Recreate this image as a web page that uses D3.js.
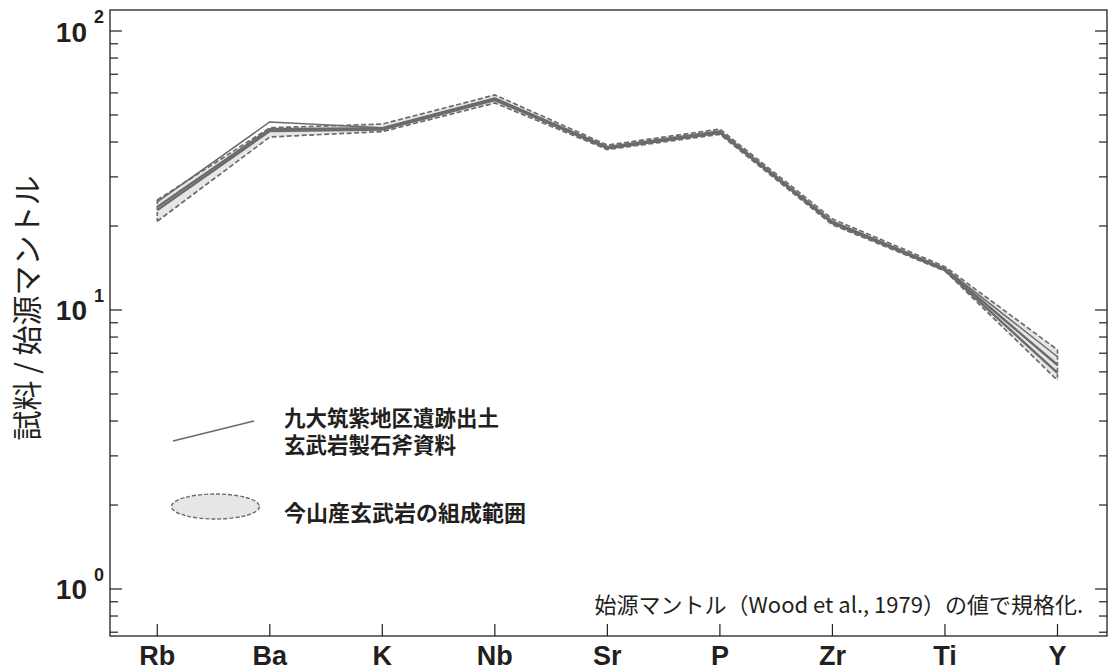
<!DOCTYPE html>
<html><head><meta charset="utf-8">
<script src="https://cdn.jsdelivr.net/npm/d3@7"></script>
<style>
html,body{margin:0;padding:0;background:#fff;}
svg{display:block;}
</style></head>
<body>
<svg id="chart" width="1110" height="671"></svg>
<script>
// ---- data ----
const elements = ["Rb","Ba","K","Nb","Sr","P","Zr","Ti","Y"];
const rangeUpper = [24.8, 45.0, 46.4, 59.0, 39.0, 44.5, 21.2, 14.3, 7.2];
const rangeLower = [20.8, 41.7, 43.6, 55.2, 37.6, 42.6, 20.2, 13.8, 5.6];
const sampleA = [24.4, 47.2, 45.0, 57.5, 38.5, 43.8, 20.8, 14.1, 6.8];
const sampleB = [23.4, 44.5, 44.8, 57.0, 38.3, 43.5, 20.6, 14.0, 6.35];
const sampleC = [22.8, 43.8, 44.3, 56.5, 38.0, 43.2, 20.5, 13.9, 5.95];
const samples = [sampleA, sampleB, sampleC];
const majorTicks = [1, 10, 100];
const majorExp = ["0","1","2"];
const yTitle = "試料 / 始源マントル";
const footnote = "始源マントル（Wood et al., 1979）の値で規格化.";
const legendLine1 = "九大筑紫地区遺跡出土";
const legendLine2 = "玄武岩製石斧資料";
const legendRange = "今山産玄武岩の組成範囲";

// ---- layout ----
const L = 110, R = 1107, T = 10, B = 636;
const ink = "#231f20", grey = "#6b6b6b";
const latin = "'Liberation Sans', Arial, Helvetica, sans-serif";
const cjk = "'Noto Sans CJK JP', sans-serif";
const svg = d3.select("#chart");
const x = d3.scaleLinear().domain([-0.42, 8.44]).range([L, R]);
const y = d3.scaleLog().domain([Math.pow(10,-0.1685), Math.pow(10,2.0753)]).range([B, T]);

// range fill
const idx = elements.map((d,i)=>i);
svg.append("path")
  .datum(idx)
  .attr("d", d3.area().x(i=>x(i)).y0(i=>y(rangeLower[i])).y1(i=>y(rangeUpper[i])))
  .attr("fill", "#e6e6e6");

// sample lines
const line = d3.line().x(d=>x(d.i)).y(d=>y(d.v));
samples.forEach((s,k)=>{
  svg.append("path")
    .datum(s.map((v,i)=>({i,v})))
    .attr("d", line)
    .attr("fill","none")
    .attr("stroke", grey)
    .attr("stroke-width", k===0 ? 1.5 : 2.4)
    .attr("stroke-linejoin","round");
});

// dashed boundaries
[rangeUpper, rangeLower].forEach(s=>{
  svg.append("path")
    .datum(s.map((v,i)=>({i,v})))
    .attr("d", line)
    .attr("fill","none")
    .attr("stroke", grey)
    .attr("stroke-width", 1.7)
    .attr("stroke-dasharray","5,2.5");
});
// end caps of range (dashed vertical)
[0, elements.length-1].forEach(i=>{
  svg.append("line")
    .attr("x1", x(i)).attr("x2", x(i))
    .attr("y1", y(rangeUpper[i])).attr("y2", y(rangeLower[i]))
    .attr("stroke", grey).attr("stroke-width",1.6).attr("stroke-dasharray","4,2");
});

// frame
svg.append("rect").attr("x",L).attr("y",T).attr("width",R-L).attr("height",B-T)
  .attr("fill","none").attr("stroke",ink).attr("stroke-width",1.3);

// y ticks (both sides, inward)
const allTicks = [];
for (let e=-1;e<=2;e++){
  for (let m=1;m<=9;m++){
    const v = m*Math.pow(10,e);
    if (v>=y.domain()[0] && v<=y.domain()[1]) allTicks.push({v, major:m===1});
  }
}
const tg = svg.append("g");
allTicks.forEach(t=>{
  const len = t.major ? 12 : 8;
  tg.append("line").attr("x1",L).attr("x2",L+len).attr("y1",y(t.v)).attr("y2",y(t.v))
    .attr("stroke",ink).attr("stroke-width",1.2);
  tg.append("line").attr("x1",R).attr("x2",R-len).attr("y1",y(t.v)).attr("y2",y(t.v))
    .attr("stroke",ink).attr("stroke-width",1.2);
});

// y tick labels 10^n
majorTicks.forEach((v,i)=>{
  const yy = y(v);
  svg.append("text").attr("x",87).attr("y",yy+10.5).attr("text-anchor","end")
    .attr("font-family",latin).attr("font-weight","bold")
    .attr("font-size",28).attr("fill",ink).text("10");
  svg.append("text").attr("x",94).attr("y",yy-8).attr("text-anchor","start")
    .attr("font-family",latin).attr("font-weight","bold")
    .attr("font-size",18).attr("fill",ink).text(majorExp[i]);
});

// x ticks (inward from bottom) and labels
elements.forEach((el,i)=>{
  svg.append("line").attr("x1",x(i)).attr("x2",x(i)).attr("y1",B).attr("y2",B-12)
    .attr("stroke",ink).attr("stroke-width",1.2);
  svg.append("text").attr("x",x(i)).attr("y",B+29).attr("text-anchor","middle")
    .attr("font-family",latin).attr("font-weight","bold")
    .attr("font-size",27).attr("fill",ink).text(el);
});

// y title
svg.append("text")
  .attr("transform","translate(38,308) rotate(-90)")
  .attr("text-anchor","middle")
  .attr("font-family",cjk)
  .attr("font-size",30).attr("fill",ink).text(yTitle);

// footnote
svg.append("text").attr("x",1083).attr("y",613).attr("text-anchor","end")
  .attr("font-family",cjk)
  .attr("font-size",22).attr("fill",ink).text(footnote);

// legend
svg.append("line").attr("x1",173).attr("y1",441).attr("x2",254).attr("y2",421)
  .attr("stroke",grey).attr("stroke-width",1.6);
svg.append("text").attr("x",284).attr("y",426)
  .attr("font-family",cjk).attr("font-weight","bold")
  .attr("font-size",21.5).attr("fill",ink).text(legendLine1);
svg.append("text").attr("x",284).attr("y",453)
  .attr("font-family",cjk).attr("font-weight","bold")
  .attr("font-size",21.5).attr("fill",ink).text(legendLine2);
svg.append("ellipse").attr("cx",215.5).attr("cy",506.5).attr("rx",44).attr("ry",12.5)
  .attr("fill","#e6e6e6").attr("stroke",grey).attr("stroke-width",1.4).attr("stroke-dasharray","4,2");
svg.append("text").attr("x",284).attr("y",521)
  .attr("font-family",cjk).attr("font-weight","bold")
  .attr("font-size",22).attr("fill",ink).text(legendRange);
</script>
</body></html>
